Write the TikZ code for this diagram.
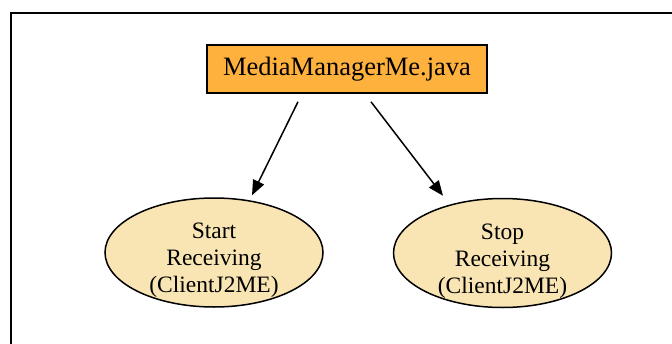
\documentclass[tikz,border=0pt]{standalone}
\usepackage{fontspec}
\setmainfont{Liberation Serif}
\usetikzlibrary{shapes.geometric,arrows.meta}
\definecolor{classfill}{HTML}{FFB13D}
\definecolor{actionfill}{HTML}{F9E5B4}
% three centred lines, set a little below the middle of the ellipse;
% the box is reported a little smaller so the ellipse keeps its own size
\newcommand{\actiontext}[1]{\raisebox{-8pt}[\dimexpr\height-8pt\relax][\dimexpr\depth-8pt\relax]{\begin{tabular}{@{}c@{}}#1\end{tabular}}}
\tikzset{
  classbox/.style={draw=black, line width=1.6pt, fill=classfill,
    minimum width=280pt, minimum height=48pt, inner sep=0pt,
    font=\fontsize{26.5pt}{30pt}\selectfont},
  actionnode/.style={ellipse, draw=black, line width=1.5pt, fill=actionfill,
    minimum width=218pt, minimum height=109pt, inner sep=0pt,
    font=\fontsize{23.5pt}{27pt}\selectfont},
  arr/.style={line width=1.5pt, -{Triangle[length=15pt,width=12pt]}},
  frameline/.style={line width=2pt}
}
\begin{document}
\begin{tikzpicture}[x=1pt,y=-1pt]
  \useasboundingbox (0,0) rectangle (672,343);
  \clip (0,0) rectangle (672,343);
  % surrounding frame, running past the right and bottom edges
  \draw[frameline] (11,13) rectangle (700,400);
  % class box and the two actions
  \node[classbox] (top) at (347,69) {MediaManagerMe.java};
  \node[actionnode] (L) at (214,252.5) {\actiontext{Start\\Receiving\\(ClientJ2ME)}};
  \node[actionnode] (R) at (502.5,253) {\actiontext{Stop\\Receiving\\(ClientJ2ME)}};
  % calls
  \draw[arr] ([xshift=-49pt,yshift=-8pt]top.south) -- ([xshift=38pt,yshift=2pt]L.north);
  \draw[arr] ([xshift=24pt,yshift=-8pt]top.south) -- ([xshift=-59.5pt,yshift=2pt]R.north);
\end{tikzpicture}
\end{document}
